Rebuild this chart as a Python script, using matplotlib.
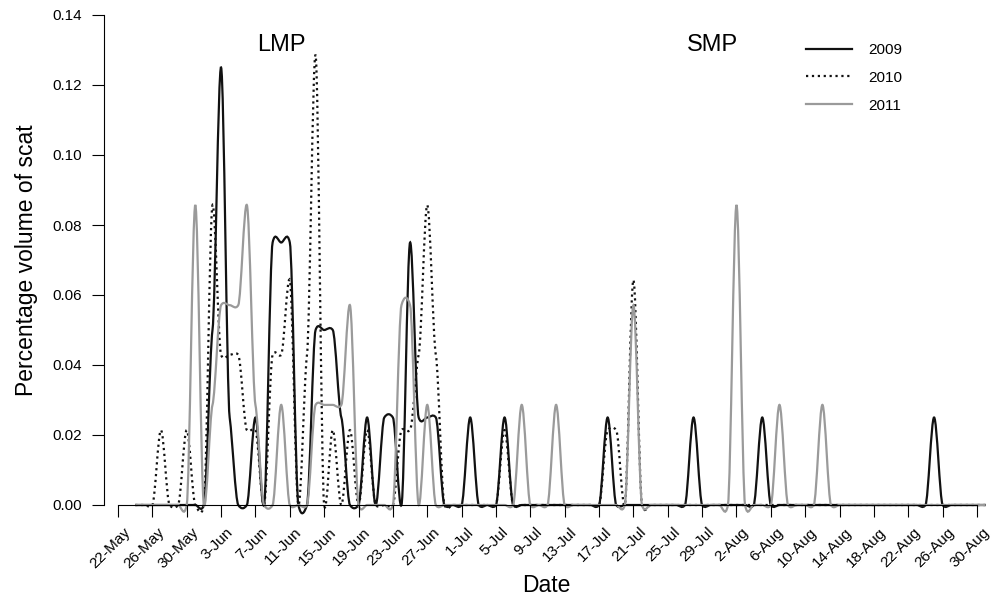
import numpy as np
import matplotlib
matplotlib.use("Agg")
import matplotlib.pyplot as plt
import matplotlib.transforms as mtransforms
from matplotlib.path import Path
from matplotlib.patches import PathPatch
from matplotlib.lines import Line2D

plt.rcParams['font.family'] = ['Liberation Sans', 'DejaVu Sans']

# day 0 = 22-May; daily values from 24-May (day 2) to 31-Aug (day 101)
days = list(range(2, 102))

tick_days = list(range(0, 101, 4))
tick_labels = ['22-May', '26-May', '30-May', '3-Jun', '7-Jun', '11-Jun', '15-Jun',
               '19-Jun', '23-Jun', '27-Jun', '1-Jul', '5-Jul', '9-Jul', '13-Jul',
               '17-Jul', '21-Jul', '25-Jul', '29-Jul', '2-Aug', '6-Aug', '10-Aug',
               '14-Aug', '18-Aug', '22-Aug', '26-Aug', '30-Aug']

y2009 = [0, 0, 0, 0, 0, 0, 0, 0, 0, 0.05,                          # 24-May..2-Jun
         0.125, 0.025, 0, 0, 0.025, 0, 0.075, 0.075, 0.075, 0,      # 3-Jun..12-Jun
         0, 0.05, 0.05, 0.05, 0.025, 0, 0, 0.025, 0, 0.025,         # 13-Jun..22-Jun
         0.025, 0, 0.075, 0.025, 0.025, 0.025, 0, 0, 0, 0.025,      # 23-Jun..2-Jul
         0, 0, 0, 0.025, 0, 0, 0, 0, 0, 0,                          # 3-Jul..12-Jul
         0, 0, 0, 0, 0, 0.025, 0, 0, 0, 0,                          # 13-Jul..22-Jul
         0, 0, 0, 0, 0, 0.025, 0, 0, 0, 0,                          # 23-Jul..1-Aug
         0, 0, 0, 0.025, 0, 0, 0, 0, 0, 0,                          # 2-Aug..11-Aug
         0, 0, 0, 0, 0, 0, 0, 0, 0, 0,                              # 12-Aug..21-Aug
         0, 0, 0, 0.025, 0, 0, 0, 0, 0, 0]                          # 22-Aug..31-Aug

y2010 = [0, 0, 0, 0.0214, 0, 0, 0.0214, 0, 0, 0.0857,
         0.0429, 0.0429, 0.0429, 0.0214, 0.0214, 0, 0.0429, 0.0429, 0.0643, 0,
         0.0429, 0.1286, 0, 0.0214, 0, 0.0214, 0, 0.0214, 0, 0,
         0, 0.0214, 0.0214, 0.0429, 0.0857, 0.0429, 0, 0, 0, 0,
         0, 0, 0, 0.0214, 0, 0, 0, 0, 0, 0,
         0, 0, 0, 0, 0, 0.0214, 0.0214, 0, 0.0643, 0,
         0, 0, 0, 0, 0, 0, 0, 0, 0, 0,
         0, 0, 0, 0, 0, 0, 0, 0, 0, 0,
         0, 0, 0, 0, 0, 0, 0, 0, 0, 0,
         0, 0, 0, 0, 0, 0, 0, 0, 0, 0]

y2011 = [0, 0, 0, 0, 0, 0, 0, 0.0857, 0, 0.0286,
         0.0571, 0.0571, 0.0571, 0.0857, 0.0286, 0, 0, 0.0286, 0, 0,
         0, 0.0286, 0.0286, 0.0286, 0.0286, 0.0571, 0, 0, 0, 0,
         0, 0.0571, 0.0571, 0, 0.0286, 0, 0, 0, 0, 0,
         0, 0, 0, 0, 0, 0.0286, 0, 0, 0, 0.0286,
         0, 0, 0, 0, 0, 0, 0, 0, 0.0571, 0,
         0, 0, 0, 0, 0, 0, 0, 0, 0, 0,
         0.0857, 0, 0, 0, 0, 0.0286, 0, 0, 0, 0,
         0.0286, 0, 0, 0, 0, 0, 0, 0, 0, 0,
         0, 0, 0, 0, 0, 0, 0, 0, 0, 0]


def smooth_path(x, y, c=0.3):
    # cubic bezier through the daily points (cardinal spline style)
    x = np.asarray(x, float)
    y = np.asarray(y, float)
    m = np.zeros(len(y))
    m[1:-1] = c * (y[2:] - y[:-2]) / 2
    verts = [(x[0], y[0])]
    codes = [Path.MOVETO]
    for i in range(len(x) - 1):
        h = x[i + 1] - x[i]
        verts += [(x[i] + h / 3, y[i] + m[i] / 3),
                  (x[i + 1] - h / 3, y[i + 1] - m[i + 1] / 3),
                  (x[i + 1], y[i + 1])]
        codes += [Path.CURVE4] * 3
    return Path(verts, codes)


fig = plt.figure(figsize=(9.99, 6.0), dpi=100)
ax = fig.add_axes([0.1041, 0.135, 0.8868, 0.84])

series = [(y2009, '#111111', '-', '2009'),
          (y2010, '#111111', ':', '2010'),
          (y2011, '#9a9a9a', '-', '2011')]
handles = []
for vals, col, ls, lab in series:
    ax.add_patch(PathPatch(smooth_path(days, vals), fill=False, edgecolor=col,
                           linewidth=1.6, linestyle=ls))
    handles.append(Line2D([], [], color=col, linewidth=1.6, linestyle=ls, label=lab))

ax.set_xlim(-1.63, 101.5)
ax.set_ylim(-0.004, 0.14)

for s in ['top', 'right']:
    ax.spines[s].set_visible(False)
ax.spines['left'].set_bounds(0, 0.14)
ax.spines['bottom'].set_position(('data', 0))
ax.spines['bottom'].set_bounds(0, 100)
for s in ['left', 'bottom']:
    ax.spines[s].set_linewidth(0.8)

ax.set_yticks(np.arange(0, 0.141, 0.02))
ax.set_yticklabels(['%.2f' % v for v in np.arange(0, 0.141, 0.02)])
ax.set_xticks(tick_days)
ax.set_xticklabels(tick_labels, rotation=45, ha='right', va='top',
                   rotation_mode='anchor')
ax.tick_params(axis='both', direction='out', length=8.6, width=0.8, labelsize=11)
ax.tick_params(axis='y', pad=7)
ax.tick_params(axis='x', pad=6)
offset = mtransforms.ScaledTranslation(5 / 100, 0, fig.dpi_scale_trans)
for lbl in ax.get_xticklabels():
    lbl.set_transform(lbl.get_transform() + offset)

ax.text(19, 0.1315, 'LMP', fontsize=17, ha='center', va='center')
ax.text(69.2, 0.1315, 'SMP', fontsize=17, ha='center', va='center')

ax.legend(handles=handles, loc='upper left', bbox_to_anchor=(0.8068, 0.9283),
          bbox_transform=fig.transFigure, frameon=False, fontsize=11,
          borderpad=0, borderaxespad=0, handlelength=3.0, handletextpad=1.05,
          labelspacing=0.9)

fig.text(546 / 999, 1 - 586 / 600, 'Date', fontsize=16.5, ha='center', va='center')
fig.text(27 / 999, 1 - 260 / 600, 'Percentage volume of scat', fontsize=16.5,
         ha='center', va='center', rotation=90)

fig.savefig('out.png', dpi=100)
